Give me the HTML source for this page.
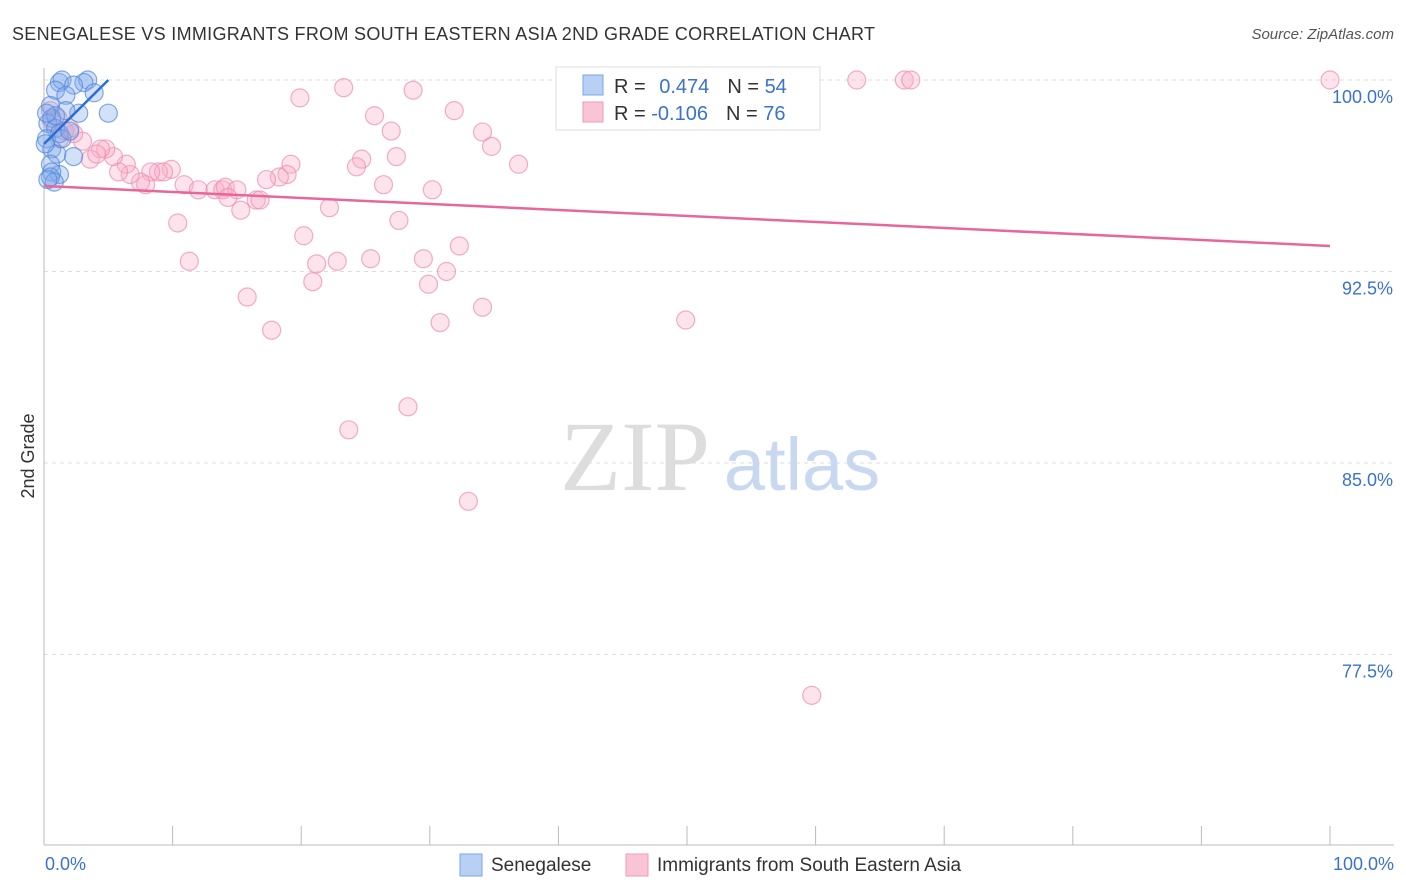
<!DOCTYPE html>
<html><head><meta charset="utf-8"><style>
body{margin:0;background:#fff;font-family:"Liberation Sans",sans-serif;}
svg{display:block}
</style></head><body>
<svg width="1406" height="892">
<text x="12" y="40" font-size="18" fill="#333" letter-spacing="0.3">SENEGALESE VS IMMIGRANTS FROM SOUTH EASTERN ASIA 2ND GRADE CORRELATION CHART</text>
<text x="1394" y="39" font-size="15" fill="#555" font-style="italic" text-anchor="end">Source: ZipAtlas.com</text>
<g id="grid"></g>
<text x="635" y="490" font-size="100" font-family="Liberation Serif,serif" fill="#ddd" text-anchor="middle">ZIP</text>
<text x="802" y="490" font-size="74" fill="#c8d8f0" text-anchor="middle">atlas</text>
<g id="pts"></g>
<g id="lines"></g>
<text x="34" y="456" font-size="18" fill="#333" text-anchor="middle" transform="rotate(-90 34 456)">2nd Grade</text>
<g>
<rect x="556" y="67" width="264" height="63" fill="#fff" stroke="#ddd"/>
<rect x="583" y="75" width="20" height="20" fill="#b8d0f4" stroke="#7aa6e6"/>
<rect x="583" y="102" width="20" height="20" fill="#f9c5d6" stroke="#ee9ab6"/>
<text x="614" y="93" font-size="20" fill="#333">R = <tspan fill="#3a72d0" dx="8">0.474</tspan><tspan dx="18" fill="#333">N = </tspan><tspan fill="#3a72d0">54</tspan></text>
<text x="614" y="120" font-size="20" fill="#333">R = <tspan fill="#3a72d0">-0.106</tspan><tspan dx="18" fill="#333">N = </tspan><tspan fill="#3a72d0">76</tspan></text>
</g>
<text x="45" y="870" font-size="18" fill="#3a72d0">0.0%</text>
<text x="1394" y="870" font-size="18" fill="#3a72d0" text-anchor="end">100.0%</text>
<g>
<rect x="460" y="854" width="22" height="22" fill="#b8d0f4" stroke="#7aa6e6"/>
<text x="491" y="871" font-size="19" fill="#333">Senegalese</text>
<rect x="626" y="854" width="22" height="22" fill="#f9c5d6" stroke="#ee9ab6"/>
<text x="657" y="871" font-size="19" fill="#333">Immigrants from South Eastern Asia</text>
</g>
</svg>
<script>
const yTicks=[100,92.5,85,77.5];
const yTickLabels=["100.0%","92.5%","85.0%","77.5%"];
const blueX=[1.2,1.4,3.4,3.1,2.3,0.9,1.7,3.9,5.0,2.7,1.7,0.5,0.6,0.3,0.9,1.2,0.2,0.6,1.0,2.3,0.5,1.2,0.6,0.5,0.8,0.3,1.4,2.0,0.9,0.2,0.1];
const blueY=[99.9,100,100,99.9,99.8,99.6,99.4,99.5,98.7,98.7,98.8,99.0,98.5,98.3,98.1,97.9,97.7,97.3,97.1,97.0,96.7,96.3,96.4,96.2,96.0,96.1,97.7,98.0,98.6,98.7,97.5];
const pinkX=[19.9,23.3,28.7,31.9,25.7,27.0,34.1,34.8,27.4,36.9,24.7,24.3,19.2,18.9,18.3,17.3,26.4,30.2,22.2,27.6,32.3,20.2,10.4,11.3,21.2,22.8,25.4,29.5,31.3,20.9,29.9,34.1,15.8,30.8,17.7,49.9,28.3,23.7,33.0,59.7,63.2,66.9,67.4,100,10.9,12.0,13.3,13.9,14.1,15.0,14.3,15.3,16.5,16.8,9.9,8.9,9.3,8.3,7.9,7.5,6.7,6.4,5.8,5.4,4.8,4.4,3.6,4.1,3.0,2.3,1.6,1.1,0.6,1.2,2.0,0.5];
const pinkY=[99.3,99.7,99.6,98.8,98.6,98.0,97.96,97.4,97.0,96.7,96.9,96.6,96.7,96.3,96.2,96.1,95.9,95.7,95.0,94.5,93.5,93.9,94.4,92.9,92.8,92.9,93.0,93.0,92.5,92.1,92.0,91.1,91.5,90.5,90.2,90.6,87.2,86.3,83.5,75.9,100,100,100,100,95.9,95.7,95.7,95.7,95.8,95.7,95.4,94.9,95.3,95.3,96.5,96.4,96.4,96.4,95.9,96.0,96.3,96.7,96.4,97.0,97.3,97.3,96.9,97.1,97.6,97.9,98.0,98.5,98.4,97.7,98.1,98.8];
const blueTrend=[[0,97.5],[5,100]];
const pinkTrend=[[0,95.85],[100,93.5]];
const NS="http://www.w3.org/2000/svg";
const xs=v=>44+v*12.86, ys=v=>80+(100-v)*25.533;
function mk(t,a,p){const e=document.createElementNS(NS,t);for(const k in a)e.setAttribute(k,a[k]);p.appendChild(e);return e;}
const g=document.getElementById('grid');
yTicks.forEach((t,i)=>{
 const l=mk('line',{x1:44,x2:1394,y1:ys(t),y2:ys(t),stroke:'#ddd','stroke-dasharray':'4,4'},g);
 
 
 const tx=mk('text',{x:1393,y:ys(t)+23,'font-size':18,fill:'#3a72d0','text-anchor':'end'},g);
 tx.textContent=yTickLabels[i];
 
 
});
const ax=mk('line',{x1:44,x2:44,y1:68,y2:845,stroke:'#bbb'},g);


const bx=mk('line',{x1:44,x2:1394,y1:845,y2:845,stroke:'#bbb'},g);


for(let i=0;i<=10;i++){const t=mk('line',{x1:xs(i*10),x2:xs(i*10),y1:826,y2:845,stroke:'#bbb'},g);
 
 }
const P=document.getElementById('pts');
pinkX.forEach((x,i)=>{const c=mk('circle',{cx:xs(x),cy:ys(pinkY[i]),r:9,fill:'rgba(248,175,200,0.35)',stroke:'rgba(238,140,175,0.7)','stroke-width':1.2},P);
 
 });
blueX.forEach((x,i)=>{const c=mk('circle',{cx:xs(x),cy:ys(blueY[i]),r:9,fill:'rgba(130,170,235,0.35)',stroke:'rgba(80,135,220,0.7)','stroke-width':1.2},P);
 
 });
const L=document.getElementById('lines');
const b=mk('line',{x1:xs(blueTrend[0][0]),y1:ys(blueTrend[0][1]),x2:xs(blueTrend[1][0]),y2:ys(blueTrend[1][1]),stroke:'#2a6fd6','stroke-width':2.5},L);


const p=mk('line',{x1:xs(pinkTrend[0][0]),y1:ys(pinkTrend[0][1]),x2:xs(pinkTrend[1][0]),y2:ys(pinkTrend[1][1]),stroke:'#e8679a','stroke-width':2.5},L);


</script>
</body></html>
